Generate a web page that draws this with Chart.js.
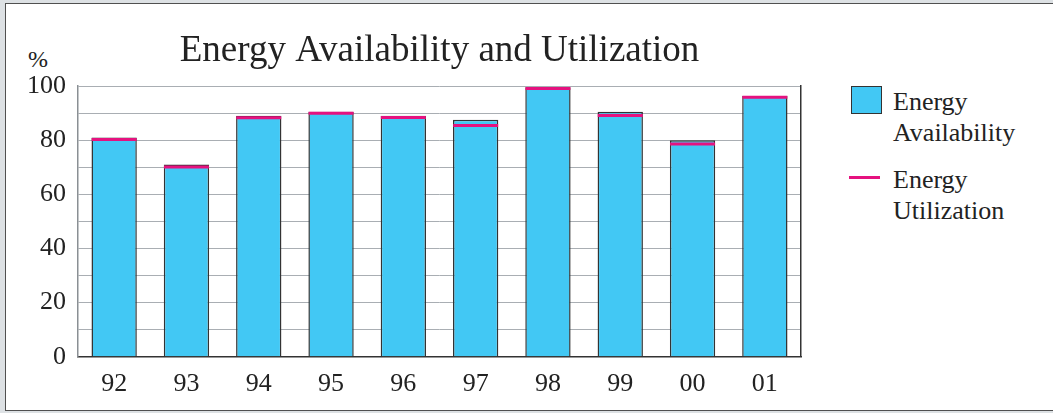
<!DOCTYPE html>
<html>
<head>
<meta charset="utf-8">
<script src="https://cdn.jsdelivr.net/npm/chart.js@4"></script>
<style>
  html, body { margin: 0; padding: 0; }
  body { width: 1053px; height: 413px; background: #dde1e4; position: relative; overflow: hidden;
         font-family: 'Liberation Serif', 'Times New Roman', serif; color: #222; }
  #frame { position: absolute; left: 5px; top: 3px; width: 1060px; height: 408px; box-sizing: border-box;
           background: #fff; border: 1.5px solid #505050; }
  #wrap { position: absolute; left: 0; top: 0; width: 879px; height: 413px; }
  #unit { position: absolute; left: 28px; top: 45px; font-size: 24px; line-height: 28px; }
  .leg { position: absolute; left: 893px; font-size: 26px; line-height: 31px; }
  #sw1 { position: absolute; left: 851px; top: 86px; width: 31px; height: 28px; box-sizing: border-box;
         background: #42c8f4; border: 1.5px solid #333; }
  #sw2 { position: absolute; left: 849px; top: 176px; width: 31px; height: 3px; background: #e5127f; }
</style>
</head>
<body>
<div id="frame"></div>
<div id="unit">%</div>
<div id="sw1"></div>
<div class="leg" style="top:86px">Energy<br>Availability</div>
<div id="sw2"></div>
<div class="leg" style="top:164px">Energy<br>Utilization</div>
<div id="wrap"><canvas id="c" width="879" height="413"></canvas></div>
<script>
const years = ['92','93','94','95','96','97','98','99','00','01'];
const availability = [81, 71, 89, 90.5, 89, 87.5, 99.5, 90.5, 80, 96.3];
const utilization = [80.2, 70.1, 88.3, 89.9, 88.4, 85.4, 99.1, 89.1, 78.6, 95.8];
const yTickLabels = [0, 20, 40, 60, 80, 100];

const serif = "'Liberation Serif', 'Times New Roman', serif";

new Chart(document.getElementById('c'), {
  data: {
    labels: years,
    datasets: [
      {
        type: 'line',
        label: 'Energy Utilization',
        data: utilization,
        order: 0,
        showLine: false,
        pointStyle: 'line',
        pointRadius: 22.5,
        pointHoverRadius: 22.5,
        pointBorderWidth: 3,
        pointBorderColor: '#e5127f',
        pointBackgroundColor: '#e5127f',
        clip: false
      },
      {
        type: 'bar',
        label: 'Energy Availability',
        data: availability,
        order: 1,
        backgroundColor: '#42c8f4',
        borderColor: '#333333',
        borderWidth: 1.5,
        barPercentage: 0.627,
        categoryPercentage: 1.0
      }
    ]
  },
  options: {
    responsive: false,
    animation: false,
    layout: { padding: { left: 0, right: 0, top: 0, bottom: 1 } },
    plugins: {
      legend: { display: false },
      tooltip: { enabled: false },
      title: {
        display: true,
        text: 'Energy Availability and Utilization',
        color: '#222',
        font: { family: serif, size: 37, weight: 'normal' },
        padding: { top: 29, bottom: 12.6 }
      }
    },
    scales: {
      x: {
        grid: { display: false, drawTicks: false },
        border: { color: '#333', width: 1.5 },
        ticks: { color: '#222', font: { family: serif, size: 26 }, padding: 12 }
      },
      y: {
        min: 0, max: 100,
        afterFit: (s) => { s.width = 78; },
        grid: { color: '#a9aeb3', lineWidth: 1, drawTicks: false },
        border: { color: '#8a8f94', width: 1.5 },
        afterBuildTicks: (s) => {
          const t = [];
          for (let v = 0; v <= 100; v += 10) t.push({ value: v });
          s.ticks = t;
        },
        ticks: {
          color: '#222', font: { family: serif, size: 26 }, padding: 12,
          autoSkip: false,
          callback: (v) => yTickLabels.includes(v) ? String(v) : ''
        }
      },
      y2: {
        position: 'right',
        min: 0, max: 100,
        afterFit: (s) => { s.width = 78; },
        grid: { display: false, drawTicks: false },
        border: { color: '#333', width: 1.5 },
        ticks: { display: false }
      }
    }
  }
});
</script>
</body>
</html>
